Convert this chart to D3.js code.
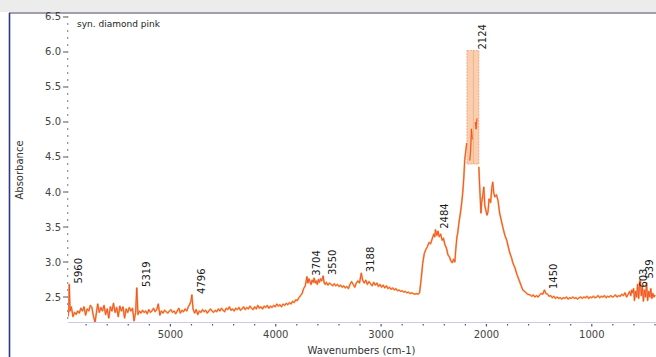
<!DOCTYPE html>
<html>
<head>
<meta charset="utf-8">
<script src="https://cdn.jsdelivr.net/npm/d3@7"></script>
<style>
  html, body { margin: 0; padding: 0; background: #fff; }
  svg { display: block; font-family: "DejaVu Sans", Verdana, sans-serif; }
</style>
</head>
<body>
<div id="chart"></div>
<script>
// spectrum: wavenumber (cm-1) and absorbance
const wavenumbers = [
  5972, 5965, 5960, 5952, 5940, 5925, 5910, 5895, 5880, 5865, 5850, 5835, 5820, 5805, 5790, 5775,
  5760, 5745, 5730, 5715, 5700, 5690, 5675, 5660, 5645, 5630, 5615, 5600, 5585, 5570, 5555, 5540,
  5525, 5510, 5495, 5480, 5465, 5450, 5435, 5420, 5405, 5390, 5375, 5360, 5345, 5330, 5319, 5308,
  5295, 5280, 5265, 5250, 5235, 5220, 5205, 5190, 5175, 5160, 5145, 5130, 5115, 5100, 5085, 5070,
  5055, 5040, 5025, 5010, 4995, 4980, 4965, 4950, 4935, 4920, 4905, 4890, 4875, 4860, 4845, 4830,
  4815, 4805, 4796, 4785, 4770, 4755, 4740, 4725, 4710, 4695, 4680, 4665, 4650, 4635, 4620, 4605,
  4590, 4575, 4560, 4545, 4530, 4515, 4500, 4485, 4470, 4455, 4440, 4425, 4410, 4395, 4380, 4365,
  4350, 4335, 4320, 4305, 4290, 4275, 4260, 4245, 4230, 4215, 4200, 4185, 4170, 4155, 4140, 4125,
  4110, 4095, 4080, 4065, 4050, 4035, 4020, 4005, 3990, 3975, 3960, 3945, 3930, 3915, 3900, 3885,
  3870, 3855, 3840, 3825, 3810, 3795, 3780, 3765, 3750, 3735, 3720, 3710, 3704, 3695, 3685, 3675,
  3665, 3655, 3645, 3635, 3625, 3615, 3605, 3595, 3585, 3575, 3565, 3550, 3540, 3530, 3520, 3505,
  3490, 3475, 3460, 3445, 3430, 3415, 3400, 3385, 3370, 3355, 3340, 3325, 3310, 3295, 3280, 3265,
  3250, 3235, 3220, 3205, 3188, 3175, 3160, 3145, 3130, 3115, 3100, 3085, 3070, 3055, 3040, 3025,
  3010, 2995, 2980, 2965, 2950, 2935, 2920, 2905, 2890, 2875, 2860, 2845, 2830, 2815, 2800, 2785,
  2770, 2755, 2740, 2725, 2710, 2695, 2680, 2665, 2650, 2635, 2620, 2605, 2590, 2575, 2560, 2545,
  2530, 2515, 2500, 2490, 2484, 2470, 2460, 2448, 2435, 2420, 2408, 2395, 2380, 2365, 2350, 2340,
  2325, 2312, 2300, 2290, 2280, 2273, 2262, 2250, 2238, 2225, 2215, 2206, 2195, 2187, 2185, 2165,
  2158, 2150, 2142, 2135, 2128, 2124, 2110, 2105, 2098, 2090, 2082, 2074, 2072, 2068, 2060, 2052,
  2045, 2035, 2025, 2015, 1995, 1985, 1975, 1960, 1950, 1940, 1930, 1920, 1905, 1890, 1875, 1860,
  1845, 1825, 1807, 1790, 1778, 1760, 1750, 1730, 1710, 1690, 1670, 1655, 1630, 1610, 1585, 1570,
  1555, 1540, 1525, 1510, 1495, 1480, 1465, 1450, 1435, 1420, 1405, 1390, 1375, 1360, 1345, 1330,
  1315, 1300, 1285, 1270, 1255, 1240, 1225, 1210, 1195, 1180, 1165, 1150, 1135, 1120, 1105, 1090,
  1075, 1060, 1045, 1030, 1015, 1000, 985, 970, 955, 940, 925, 910, 895, 880, 865, 850,
  835, 820, 805, 790, 775, 760, 745, 730, 715, 700, 685, 670, 655, 640, 630, 620,
  610, 603, 595, 585, 575, 565, 555, 545, 539, 530, 520, 510, 500, 490, 480, 470,
  460, 450, 440, 430, 420, 410, 400
];
const absorbance = [
  2.22, 2.30, 2.68, 2.30, 2.36, 2.22, 2.28, 2.25, 2.30, 2.27, 2.34, 2.30, 2.36, 2.24, 2.33, 2.30,
  2.38, 2.35, 2.22, 2.14, 2.30, 2.40, 2.28, 2.35, 2.30, 2.38, 2.25, 2.33, 2.20, 2.36, 2.30, 2.41,
  2.28, 2.35, 2.22, 2.37, 2.30, 2.36, 2.20, 2.33, 2.28, 2.35, 2.30, 2.34, 2.16, 2.28, 2.63, 2.25,
  2.30, 2.27, 2.31, 2.28, 2.30, 2.26, 2.32, 2.28, 2.30, 2.34, 2.29, 2.32, 2.40, 2.24, 2.30, 2.27,
  2.31, 2.29, 2.27, 2.30, 2.32, 2.28, 2.30, 2.26, 2.30, 2.34, 2.27, 2.31, 2.29, 2.33, 2.30, 2.36,
  2.40, 2.44, 2.53, 2.33, 2.27, 2.32, 2.25, 2.30, 2.28, 2.32, 2.29, 2.31, 2.27, 2.30, 2.33, 2.30,
  2.28, 2.31, 2.29, 2.33, 2.30, 2.34, 2.31, 2.29, 2.34, 2.32, 2.36, 2.31, 2.33, 2.30, 2.34, 2.32,
  2.35, 2.31, 2.33, 2.36, 2.32, 2.35, 2.33, 2.37, 2.34, 2.32, 2.36, 2.33, 2.38, 2.34, 2.36, 2.33,
  2.37, 2.35, 2.38, 2.34, 2.37, 2.35, 2.38, 2.36, 2.40, 2.37, 2.39, 2.36, 2.40, 2.38, 2.41, 2.39,
  2.42, 2.40, 2.44, 2.42, 2.46, 2.45, 2.49, 2.52, 2.55, 2.62, 2.66, 2.74, 2.79, 2.70, 2.76, 2.72,
  2.68, 2.74, 2.71, 2.77, 2.70, 2.73, 2.68, 2.75, 2.71, 2.76, 2.73, 2.80, 2.70, 2.68, 2.71, 2.67,
  2.70, 2.68, 2.66, 2.69, 2.66, 2.68, 2.65, 2.67, 2.64, 2.66, 2.63, 2.65, 2.62, 2.68, 2.72, 2.68,
  2.64, 2.70, 2.73, 2.70, 2.84, 2.74, 2.70, 2.74, 2.68, 2.72, 2.69, 2.66, 2.71, 2.67, 2.70, 2.65,
  2.68, 2.64, 2.67, 2.63, 2.66, 2.62, 2.64, 2.61, 2.63, 2.60, 2.62, 2.59, 2.60, 2.58, 2.59, 2.57,
  2.58, 2.56, 2.57, 2.55, 2.56, 2.55, 2.54, 2.55, 2.54, 2.56, 2.75, 2.98, 3.12, 3.18, 3.22, 3.28,
  3.26, 3.33, 3.40, 3.36, 3.46, 3.38, 3.44, 3.36, 3.40, 3.31, 3.34, 3.25, 3.20, 3.10, 3.07, 3.02,
  2.99, 3.04, 3.00, 3.20, 3.36, 3.41, 3.55, 3.67, 3.80, 3.99, 4.20, 4.46, 4.60, 4.70, 6.02, 6.02,
  4.45, 4.60, 4.90, 4.75, 6.02, 6.02, 6.02, 5.00, 4.90, 5.05, 6.02, 6.02, 4.36, 4.20, 3.95, 3.70,
  3.85, 3.95, 4.07, 3.80, 3.67, 3.72, 3.90, 3.85, 4.05, 4.14, 3.98, 3.93, 3.96, 3.88, 3.70, 3.60,
  3.50, 3.38, 3.31, 3.20, 3.13, 3.05, 2.99, 2.92, 2.82, 2.74, 2.66, 2.60, 2.57, 2.54, 2.53, 2.51,
  2.53, 2.50, 2.52, 2.50, 2.53, 2.55, 2.54, 2.60, 2.55, 2.54, 2.51, 2.52, 2.49, 2.51, 2.48, 2.50,
  2.48, 2.49, 2.47, 2.49, 2.48, 2.50, 2.47, 2.49, 2.48, 2.50, 2.48, 2.49, 2.47, 2.49, 2.50, 2.48,
  2.50, 2.49, 2.51, 2.48, 2.50, 2.49, 2.51, 2.49, 2.50, 2.52, 2.49, 2.51, 2.50, 2.52, 2.49, 2.51,
  2.50, 2.52, 2.50, 2.51, 2.53, 2.50, 2.52, 2.51, 2.54, 2.52, 2.56, 2.50, 2.54, 2.58, 2.52, 2.60,
  2.56, 2.62, 2.45, 2.58, 2.50, 2.68, 2.48, 2.72, 2.75, 2.52, 2.65, 2.44, 2.60, 2.50, 2.70, 2.45,
  2.58, 2.50, 2.62, 2.48, 2.55, 2.50, 2.53
];

// detector saturation band around the 2124 peak
const saturated = [2185, 2072];
const saturationTop = 6.02;

const peakLabels = [5960, 5319, 4796, 3704, 3550, 3188, 2484, 2124, 1450, 603, 539];

const yTicks = [2.5, 3.0, 3.5, 4.0, 4.5, 5.0, 5.5, 6.0, 6.5];
const xTicks = [5000, 4000, 3000, 2000, 1000];

const sampleName = 'syn. diamond pink';
const xTitle = 'Wavenumbers (cm-1)';
const yTitle = 'Absorbance';

const width = 656;
const height = 357;
const plot = { left: 68, right: 655, top: 13, bottom: 322 };

const svg = d3.select('#chart')
  .append('svg')
  .attr('width', width)
  .attr('height', height);

// scanned page tint above the frame
svg.append('rect')
  .attr('x', 0).attr('y', 0)
  .attr('width', width).attr('height', 12)
  .attr('fill', '#ececec');

svg.append('line')
  .attr('x1', 9).attr('x2', width)
  .attr('y1', 13).attr('y2', 13)
  .attr('stroke', '#857c95')
  .attr('stroke-width', 1.6);

svg.append('line')
  .attr('x1', 9.5).attr('x2', 9.5)
  .attr('y1', 13).attr('y2', height)
  .attr('stroke', '#2c3a86')
  .attr('stroke-width', 1.6);

const x = d3.scaleLinear().domain([5972, 400]).range([plot.left, plot.right]);
const y = d3.scaleLinear().domain([2.143, 6.557]).range([plot.bottom, plot.top]);

svg.append('clipPath').attr('id', 'plotClip')
  .append('rect')
  .attr('x', plot.left).attr('y', plot.top)
  .attr('width', plot.right - plot.left + 2)
  .attr('height', plot.bottom - plot.top);

// x axis
svg.append('line')
  .attr('x1', plot.left).attr('x2', width)
  .attr('y1', plot.bottom + 0.5).attr('y2', plot.bottom + 0.5)
  .attr('stroke', '#cfc8e6')
  .attr('stroke-width', 1);

const xMinor = d3.range(400, 5900, 200);
svg.append('g').selectAll('rect')
  .data(xMinor)
  .enter()
  .append('rect')
  .attr('x', (d) => x(d) - 0.6)
  .attr('y', plot.bottom + 2)
  .attr('width', 1.2)
  .attr('height', (d) => (d % 1000 === 0 ? 2.5 : 1.5))
  .attr('fill', '#555');

svg.append('g').selectAll('text')
  .data(xTicks)
  .enter()
  .append('text')
  .attr('x', (d) => x(d))
  .attr('y', 338)
  .attr('text-anchor', 'middle')
  .attr('font-size', '10px')
  .attr('fill', '#444')
  .text((d) => d);

// y axis: dashes on majors, dots on tenths
const yMinor = d3.range(22, 66).map((d) => d / 10);
svg.append('g').selectAll('rect')
  .data(yMinor)
  .enter()
  .append('rect')
  .attr('x', plot.left - 1)
  .attr('y', (d) => y(d) - 0.6)
  .attr('width', 1.3)
  .attr('height', 1.2)
  .attr('fill', '#555');

svg.append('g').selectAll('line')
  .data(yTicks)
  .enter()
  .append('line')
  .attr('x1', plot.left - 5).attr('x2', plot.left - 1)
  .attr('y1', (d) => y(d)).attr('y2', (d) => y(d))
  .attr('stroke', '#555')
  .attr('stroke-width', 1);

svg.append('g').selectAll('text')
  .data(yTicks)
  .enter()
  .append('text')
  .attr('x', plot.left - 7)
  .attr('y', (d) => y(d))
  .attr('dy', '0.35em')
  .attr('text-anchor', 'end')
  .attr('font-size', '10px')
  .attr('fill', '#444')
  .text((d) => d.toFixed(1));

svg.append('text')
  .attr('x', (plot.left + plot.right) / 2)
  .attr('y', 354)
  .attr('text-anchor', 'middle')
  .attr('font-size', '10px')
  .attr('fill', '#333')
  .text(xTitle);

svg.append('text')
  .attr('transform', 'translate(23,170) rotate(-90)')
  .attr('text-anchor', 'middle')
  .attr('font-size', '10px')
  .attr('fill', '#333')
  .text(yTitle);

svg.append('text')
  .attr('x', plot.left + 9)
  .attr('y', 27)
  .attr('font-size', '9px')
  .attr('fill', '#222')
  .text(sampleName);

const g = svg.append('g').attr('clip-path', 'url(#plotClip)');

g.append('rect')
  .attr('x', x(saturated[0]))
  .attr('y', y(saturationTop))
  .attr('width', x(saturated[1]) - x(saturated[0]))
  .attr('height', y(4.4) - y(saturationTop))
  .attr('fill', '#f9c7a2')
  .attr('fill-opacity', 0.85)
  .attr('stroke', '#f39a72')
  .attr('stroke-width', 0.8)
  .attr('stroke-dasharray', '2,1');

g.append('line')
  .attr('x1', x(2124)).attr('x2', x(2124))
  .attr('y1', y(saturationTop)).attr('y2', y(4.4))
  .attr('stroke', '#f3a47e')
  .attr('stroke-width', 0.7);

// saturated readings are shown by the band, not by the trace
const points = wavenumbers.map((w, i) => [w, absorbance[i]]);
const line = d3.line()
  .defined((d) => d[1] < saturationTop)
  .x((d) => x(d[0]))
  .y((d) => y(d[1]));

g.append('path')
  .datum(points)
  .attr('fill', 'none')
  .attr('stroke', '#fbb064')
  .attr('stroke-width', 1.9)
  .attr('stroke-linejoin', 'round')
  .attr('d', line);

g.append('path')
  .datum(points)
  .attr('fill', 'none')
  .attr('stroke', '#ee4b2b')
  .attr('stroke-width', 0.9)
  .attr('stroke-linejoin', 'round')
  .attr('d', line);

// peak labels, read bottom to top, sitting just right of each peak
svg.append('g').selectAll('text')
  .data(peakLabels)
  .enter()
  .append('text')
  .attr('transform', (d) => {
    const i = wavenumbers.indexOf(d);
    return `translate(${x(d) + 13},${y(absorbance[i]) - 1}) rotate(-90)`;
  })
  .attr('font-size', '10px')
  .attr('fill', '#1a1a1a')
  .text((d) => d);
</script>
</body>
</html>
